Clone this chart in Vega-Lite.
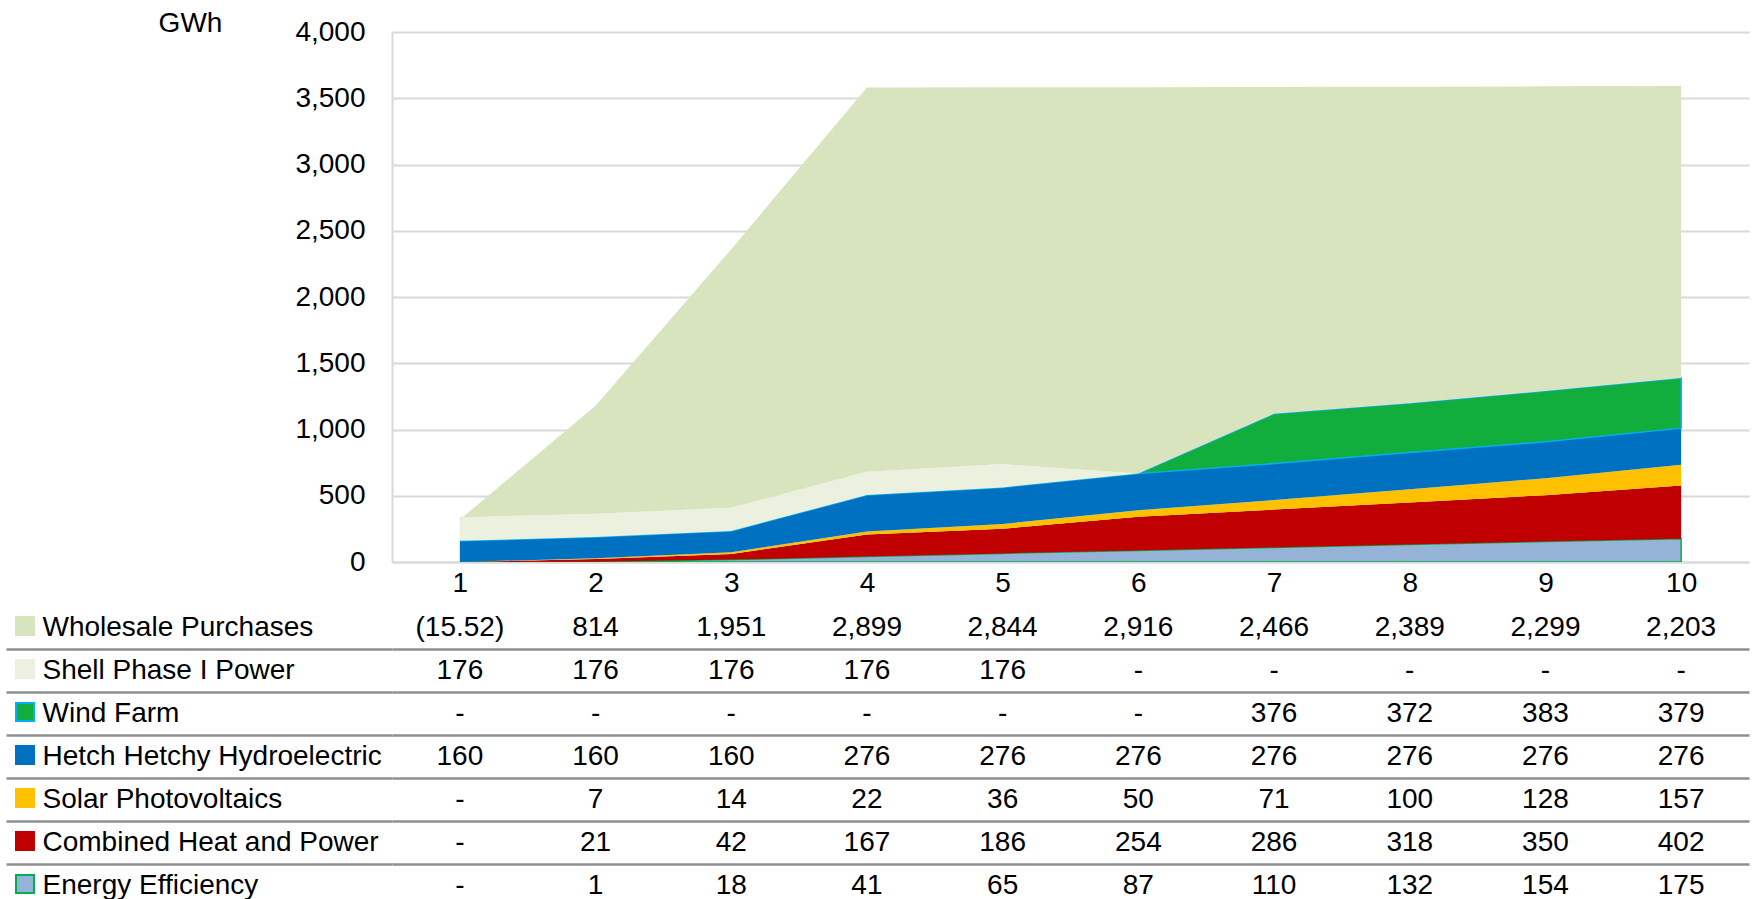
{
  "$schema": "https://vega.github.io/schema/vega-lite/v6.json",
  "background": "white",
  "padding": {"left": 4, "top": 9, "right": 5, "bottom": -9},
  "config": {
    "font": "Liberation Sans",
    "view": {"stroke": null},
    "axis": {"labelFont": "Liberation Sans", "labelFontSize": 28, "labelColor": "#000000", "titleFont": "Liberation Sans"}
  },
  "datasets": {
    "d": [
      {"s": "Energy Efficiency", "x": 1, "v": 0, "t": "-"},
      {"s": "Energy Efficiency", "x": 2, "v": 1, "t": "1"},
      {"s": "Energy Efficiency", "x": 3, "v": 18, "t": "18"},
      {"s": "Energy Efficiency", "x": 4, "v": 41, "t": "41"},
      {"s": "Energy Efficiency", "x": 5, "v": 65, "t": "65"},
      {"s": "Energy Efficiency", "x": 6, "v": 87, "t": "87"},
      {"s": "Energy Efficiency", "x": 7, "v": 110, "t": "110"},
      {"s": "Energy Efficiency", "x": 8, "v": 132, "t": "132"},
      {"s": "Energy Efficiency", "x": 9, "v": 154, "t": "154"},
      {"s": "Energy Efficiency", "x": 10, "v": 175, "t": "175"},
      {"s": "Combined Heat and Power", "x": 1, "v": 0, "t": "-"},
      {"s": "Combined Heat and Power", "x": 2, "v": 21, "t": "21"},
      {"s": "Combined Heat and Power", "x": 3, "v": 42, "t": "42"},
      {"s": "Combined Heat and Power", "x": 4, "v": 167, "t": "167"},
      {"s": "Combined Heat and Power", "x": 5, "v": 186, "t": "186"},
      {"s": "Combined Heat and Power", "x": 6, "v": 254, "t": "254"},
      {"s": "Combined Heat and Power", "x": 7, "v": 286, "t": "286"},
      {"s": "Combined Heat and Power", "x": 8, "v": 318, "t": "318"},
      {"s": "Combined Heat and Power", "x": 9, "v": 350, "t": "350"},
      {"s": "Combined Heat and Power", "x": 10, "v": 402, "t": "402"},
      {"s": "Solar Photovoltaics", "x": 1, "v": 0, "t": "-"},
      {"s": "Solar Photovoltaics", "x": 2, "v": 7, "t": "7"},
      {"s": "Solar Photovoltaics", "x": 3, "v": 14, "t": "14"},
      {"s": "Solar Photovoltaics", "x": 4, "v": 22, "t": "22"},
      {"s": "Solar Photovoltaics", "x": 5, "v": 36, "t": "36"},
      {"s": "Solar Photovoltaics", "x": 6, "v": 50, "t": "50"},
      {"s": "Solar Photovoltaics", "x": 7, "v": 71, "t": "71"},
      {"s": "Solar Photovoltaics", "x": 8, "v": 100, "t": "100"},
      {"s": "Solar Photovoltaics", "x": 9, "v": 128, "t": "128"},
      {"s": "Solar Photovoltaics", "x": 10, "v": 157, "t": "157"},
      {"s": "Hetch Hetchy Hydroelectric", "x": 1, "v": 160, "t": "160"},
      {"s": "Hetch Hetchy Hydroelectric", "x": 2, "v": 160, "t": "160"},
      {"s": "Hetch Hetchy Hydroelectric", "x": 3, "v": 160, "t": "160"},
      {"s": "Hetch Hetchy Hydroelectric", "x": 4, "v": 276, "t": "276"},
      {"s": "Hetch Hetchy Hydroelectric", "x": 5, "v": 276, "t": "276"},
      {"s": "Hetch Hetchy Hydroelectric", "x": 6, "v": 276, "t": "276"},
      {"s": "Hetch Hetchy Hydroelectric", "x": 7, "v": 276, "t": "276"},
      {"s": "Hetch Hetchy Hydroelectric", "x": 8, "v": 276, "t": "276"},
      {"s": "Hetch Hetchy Hydroelectric", "x": 9, "v": 276, "t": "276"},
      {"s": "Hetch Hetchy Hydroelectric", "x": 10, "v": 276, "t": "276"},
      {"s": "Wind Farm", "x": 1, "v": 0, "t": "-"},
      {"s": "Wind Farm", "x": 2, "v": 0, "t": "-"},
      {"s": "Wind Farm", "x": 3, "v": 0, "t": "-"},
      {"s": "Wind Farm", "x": 4, "v": 0, "t": "-"},
      {"s": "Wind Farm", "x": 5, "v": 0, "t": "-"},
      {"s": "Wind Farm", "x": 6, "v": 0, "t": "-"},
      {"s": "Wind Farm", "x": 7, "v": 376, "t": "376"},
      {"s": "Wind Farm", "x": 8, "v": 372, "t": "372"},
      {"s": "Wind Farm", "x": 9, "v": 383, "t": "383"},
      {"s": "Wind Farm", "x": 10, "v": 379, "t": "379"},
      {"s": "Shell Phase I Power", "x": 1, "v": 176, "t": "176"},
      {"s": "Shell Phase I Power", "x": 2, "v": 176, "t": "176"},
      {"s": "Shell Phase I Power", "x": 3, "v": 176, "t": "176"},
      {"s": "Shell Phase I Power", "x": 4, "v": 176, "t": "176"},
      {"s": "Shell Phase I Power", "x": 5, "v": 176, "t": "176"},
      {"s": "Shell Phase I Power", "x": 6, "v": 0, "t": "-"},
      {"s": "Shell Phase I Power", "x": 7, "v": 0, "t": "-"},
      {"s": "Shell Phase I Power", "x": 8, "v": 0, "t": "-"},
      {"s": "Shell Phase I Power", "x": 9, "v": 0, "t": "-"},
      {"s": "Shell Phase I Power", "x": 10, "v": 0, "t": "-"},
      {"s": "Wholesale Purchases", "x": 1, "v": -15.52, "t": "(15.52)"},
      {"s": "Wholesale Purchases", "x": 2, "v": 814, "t": "814"},
      {"s": "Wholesale Purchases", "x": 3, "v": 1951, "t": "1,951"},
      {"s": "Wholesale Purchases", "x": 4, "v": 2899, "t": "2,899"},
      {"s": "Wholesale Purchases", "x": 5, "v": 2844, "t": "2,844"},
      {"s": "Wholesale Purchases", "x": 6, "v": 2916, "t": "2,916"},
      {"s": "Wholesale Purchases", "x": 7, "v": 2466, "t": "2,466"},
      {"s": "Wholesale Purchases", "x": 8, "v": 2389, "t": "2,389"},
      {"s": "Wholesale Purchases", "x": 9, "v": 2299, "t": "2,299"},
      {"s": "Wholesale Purchases", "x": 10, "v": 2203, "t": "2,203"}
    ]
  },
  "spacing": 44,
  "bounds": "flush",
  "resolve": {
    "scale": {"x": "independent", "y": "independent", "color": "independent"},
    "legend": {"color": "independent"}
  },
  "vconcat": [
    {
      "width": 1357,
      "height": 530,
      "data": {"name": "d"},
      "transform": [
        {"window": [{"op": "sum", "field": "v", "as": "top"}], "groupby": ["x"], "frame": [null, 0]},
        {"window": [{"op": "lag", "field": "top", "as": "base"}], "groupby": ["x"]}
      ],
      "mark": {"type": "area", "strokeWidth": 1.5, "clip": true, "invalid": null},
      "encoding": {
        "x": {
          "field": "x", "type": "ordinal",
          "scale": {"type": "point", "padding": 0.5},
          "axis": {"title": null, "labelAngle": 0, "ticks": false, "grid": false, "domain": true, "domainColor": "#d9d9d9", "domainWidth": 2, "labelPadding": 21, "labelBaseline": "middle"}
        },
        "y": {
          "field": "top", "type": "quantitative",
          "scale": {"domain": [0, 4000], "nice": false},
          "axis": {
            "title": "GWh", "titleAngle": 0, "titleX": -202, "titleY": -9, "titleAlign": "center", "titleBaseline": "middle",
            "titleFontSize": 28, "titleFontWeight": "normal", "titleColor": "#000000",
            "values": [0, 500, 1000, 1500, 2000, 2500, 3000, 3500, 4000], "format": ",.0f",
            "ticks": false, "labelPadding": 27, "labelBaseline": "middle",
            "grid": true, "gridColor": "#d9d9d9", "gridWidth": 2,
            "domain": true, "domainColor": "#d9d9d9", "domainWidth": 2
          }
        },
        "y2": {"field": "base"},
        "color": {
          "field": "s", "type": "nominal",
          "scale": {
            "domain": ["Energy Efficiency", "Combined Heat and Power", "Solar Photovoltaics", "Hetch Hetchy Hydroelectric", "Wind Farm", "Shell Phase I Power", "Wholesale Purchases"],
            "range": ["#95b3d7", "#c00000", "#ffc000", "#0070c0", "#11ae3d", "#ebf1de", "#d7e4bd"]
          },
          "legend": null
        },
        "stroke": {
          "field": "s", "type": "nominal",
          "scale": {
            "domain": ["Energy Efficiency", "Combined Heat and Power", "Solar Photovoltaics", "Hetch Hetchy Hydroelectric", "Wind Farm", "Shell Phase I Power", "Wholesale Purchases"],
            "range": ["#00b050", "transparent", "transparent", "transparent", "#00b0f0", "transparent", "transparent"]
          },
          "legend": null
        }
      }
    },
    {
      "width": 1357,
      "height": 301,
      "data": {"name": "d"},
      "encoding": {
        "x": {"field": "x", "type": "ordinal", "scale": {"type": "point", "padding": 0.5}, "axis": null},
        "y": {
          "field": "s", "type": "nominal",
          "scale": {
            "type": "band", "paddingInner": 0, "paddingOuter": 0,
            "domain": ["Wholesale Purchases", "Shell Phase I Power", "Wind Farm", "Hetch Hetchy Hydroelectric", "Solar Photovoltaics", "Combined Heat and Power", "Energy Efficiency"]
          },
          "axis": {
            "title": null, "domain": false,
            "ticks": true, "tickSize": 386, "tickColor": "#8f8f8f", "tickWidth": 2.5,
            "bandPosition": 1, "tickExtra": false,
            "grid": true, "gridColor": "#8f8f8f", "gridWidth": 2.5,
            "labelAlign": "left", "labelPadding": -36, "labelFontSize": 28, "labelBaseline": "middle", "labelLimit": 0
          }
        }
      },
      "layer": [
        {
          "mark": {"type": "text", "fontSize": 28, "color": "#000000", "baseline": "middle", "align": "center"},
          "encoding": {"text": {"field": "t"}}
        },
        {
          "mark": {"type": "point", "shape": "square", "filled": true, "opacity": 0},
          "encoding": {
            "color": {
              "field": "s", "type": "nominal",
              "scale": {
                "domain": ["Wholesale Purchases", "Shell Phase I Power", "Wind Farm", "Hetch Hetchy Hydroelectric", "Solar Photovoltaics", "Combined Heat and Power", "Energy Efficiency"],
                "range": ["#d7e4bd", "#ebf1de", "#11ae3d", "#0070c0", "#ffc000", "#c00000", "#95b3d7"]
              },
              "legend": {
                "orient": "none", "legendX": -377, "legendY": 10, "title": null,
                "labelExpr": "''", "labelFontSize": 1,
                "symbolType": "square", "symbolSize": 324, "symbolOpacity": 1, "symbolStrokeWidth": 2,
                "rowPadding": 17, "padding": 0, "direction": "vertical",
                "encode": {
                  "symbols": {
                    "update": {
                      "stroke": {"signal": "({'Wholesale Purchases':'#d7e4bd','Shell Phase I Power':'#ebf1de','Wind Farm':'#00b0f0','Hetch Hetchy Hydroelectric':'#0070c0','Solar Photovoltaics':'#ffc000','Combined Heat and Power':'#c00000','Energy Efficiency':'#00b050'})[datum.value]"}
                    }
                  }
                }
              }
            }
          }
        }
      ]
    }
  ]
}
